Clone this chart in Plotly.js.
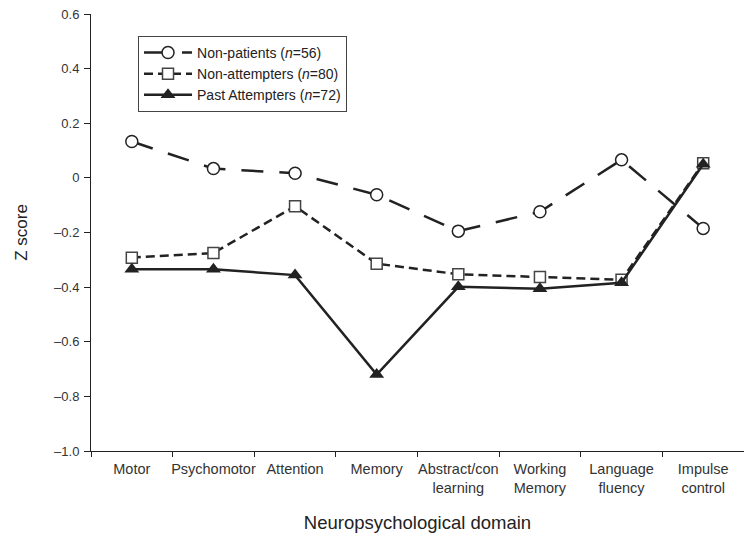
<!DOCTYPE html>
<html>
<head>
<meta charset="utf-8">
<script src="https://cdn.plot.ly/plotly-3.0.1.min.js"></script>
<style>html,body{margin:0;padding:0;background:#fff;}#chart{width:744px;height:538px;}</style>
</head>
<body>
<div id="chart"></div>
<script>
var categories = ["Motor", "Psychomotor", "Attention", "Memory", "Abstract/con<br>learning", "Working<br>Memory", "Language<br>fluency", "Impulse<br>control"];
var nonPatients = [0.133, 0.034, 0.017, -0.062, -0.195, -0.124, 0.066, -0.185];
var nonAttempters = [-0.292, -0.275, -0.104, -0.314, -0.353, -0.363, -0.373, 0.054];
var pastAttempters = [-0.335, -0.335, -0.356, -0.72, -0.399, -0.406, -0.384, 0.05];
var yTickVals = [-1.0, -0.8, -0.6, -0.4, -0.2, 0, 0.2, 0.4, 0.6];
var yTickText = ["\u20131.0", "\u20130.8", "\u20130.6", "\u20130.4", "\u20130.2", "0", "0.2", "0.4", "0.6"];

var ink = "#222";
var traces = [
  {
    x: categories, y: nonPatients, type: "scatter", mode: "lines+markers",
    name: "Non-patients (<i>n</i>=56)",
    line: {color: ink, width: 2.5, dash: "22px,16px"},
    marker: {symbol: "circle", size: 12, color: "#fff", line: {color: ink, width: 1.5}}
  },
  {
    x: categories, y: nonAttempters, type: "scatter", mode: "lines+markers",
    name: "Non-attempters (<i>n</i>=80)",
    line: {color: ink, width: 2.5, dash: "9px,5px"},
    marker: {symbol: "square", size: 11, color: "#fff", line: {color: "#444", width: 1.5}}
  },
  {
    x: categories, y: pastAttempters, type: "scatter", mode: "lines+markers",
    name: "Past Attempters (<i>n</i>=72)",
    line: {color: ink, width: 2.5},
    marker: {symbol: "triangle-up", size: 13, color: ink}
  }
];

var layout = {
  width: 744, height: 538,
  margin: {l: 91, r: 0, t: 14, b: 87},
  paper_bgcolor: "#fff", plot_bgcolor: "#fff",
  font: {family: "Liberation Sans, Arial, sans-serif", color: "#222", size: 13},
  showlegend: true,
  legend: {
    x: 0.072, y: 0.950, xanchor: "left", yanchor: "top",
    bordercolor: "#444", borderwidth: 1, bgcolor: "#fff",
    font: {size: 14, color: "#222"}, itemwidth: 48
  },
  xaxis: {
    type: "category",
    showline: true, linecolor: "#222", linewidth: 1,
    showgrid: false, zeroline: false,
    ticks: "outside", ticklen: 5, tickcolor: "#222", tickson: "boundaries",
    tickangle: 0, ticklabelstandoff: 5,
    tickfont: {size: 14.5, color: "#333"},
    title: {text: "Neuropsychological domain", font: {size: 18.5, color: "#222"}, standoff: 20},
    range: [-0.5, 7.5], fixedrange: true
  },
  yaxis: {
    range: [-1.0, 0.6],
    tickvals: yTickVals, ticktext: yTickText,
    showline: true, linecolor: "#222", linewidth: 1,
    showgrid: false, zeroline: false,
    ticks: "outside", ticklen: 6, tickcolor: "#222",
    ticklabelstandoff: 2,
    tickfont: {size: 13, color: "#333"},
    title: {text: "Z score", font: {size: 17, color: "#222"}, standoff: 22}
  }
};

Plotly.newPlot("chart", traces, layout, {displayModeBar: false, staticPlot: true});
</script>
</body>
</html>
